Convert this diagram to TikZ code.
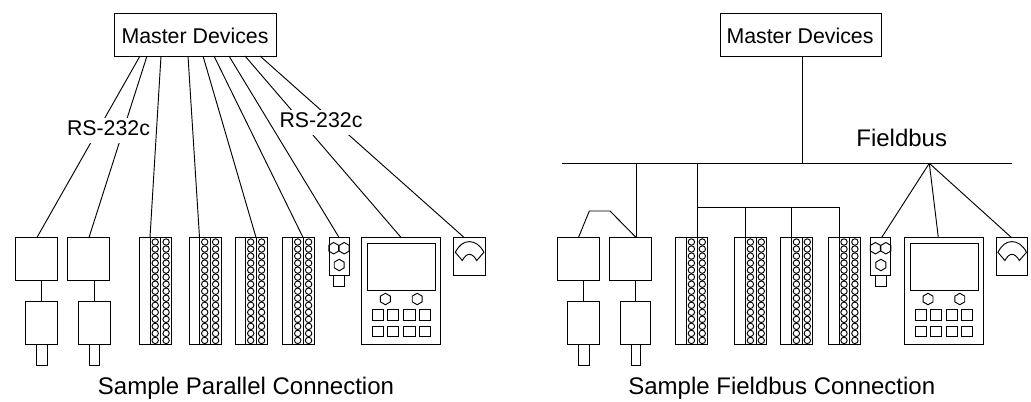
\documentclass[tikz,border=0pt]{standalone}
\usepackage{fontspec}
\setmainfont{Liberation Sans}
\usepackage{tikz}
\usetikzlibrary{shapes.geometric}

\newcommand{\iomodule}[2]{
\node[modbox] (#1) at (#2,237.4) {};
\draw ([xshift=8pt]#1.north west) -- ([xshift=8pt]#1.south west);
\draw ([xshift=16pt]#1.north west) -- ([xshift=16pt]#1.south west);
\foreach \n in {0,...,14} {
\node[led] (#1a\n) at (#2+15.7,242+7.03*\n) {};
\node[led] (#1b\n) at (#2+26.6,242+7.03*\n) {};
}
}
\newcommand{\sensor}[2]{
\node[sensbox] (#1) at (#2,237.4) {};
\node[plug,minimum width=8.2pt,minimum height=8.3pt,anchor=north] (#1p) at (#1.south) {};
\node[hex] (#1x) at (#2+4.7,248.2) {};
\node[hex] (#1y) at (#2+15.2,248.2) {};
\node[hex] (#1z) at (#2+10.2,265) {};
}
\newcommand{\panel}[2]{
\node[panelbox] (#1) at (#2,237.4) {};
\node[screen] (#1s) at (#2+5.8,243.4) {};
\node[hex] (#1x) at (#2+23.7,299) {};
\node[hex] (#1y) at (#2+55.5,299) {};
\foreach \bx/\bn in {10.8/1,25.8/2,42/3,57.3/4} {
\foreach \by/\br in {309.4/1,326/2} {
\node[button] (#1b\bn\br) at (#2+\bx,\by) {};
}
}
}
\newcommand{\gauge}[2]{
\node[sensbox,minimum width=23.5pt] (#1) at (#2,237.4) {};
\draw[shift={(#2,0)}] (1.6,252.3) .. controls (5.5,245) and (10,241.6) .. (15.6,241.6)
 .. controls (21,241.6) and (26.5,245) .. (30.2,252.3) -- (23,260.5)
 .. controls (21,257) and (18.5,254.3) .. (15.6,254.3)
 .. controls (13,254.3) and (10.5,257) .. (8.6,260.5) -- cycle;
}

\begin{document}
\begin{tikzpicture}[x=0.75pt,y=-0.75pt,line width=0.7pt]
\tikzstyle{txt}=[font=\fontsize{16}{18}\selectfont,inner sep=0]
\tikzstyle{bigtxt}=[font=\fontsize{18}{20}\selectfont,inner sep=0,anchor=base]
\tikzstyle{master}=[draw,minimum width=121.5pt,minimum height=31.9pt,inner sep=0,outer sep=0]
\tikzstyle{gap}=[txt,fill=white,text height=12.5pt,text depth=6pt,anchor=base]
\tikzstyle{square}=[draw,minimum width=31.6pt,minimum height=32pt,inner sep=0,outer sep=0]
\tikzstyle{lower}=[draw,minimum width=24pt,minimum height=32pt,inner sep=0,outer sep=0]
\tikzstyle{plug}=[draw,minimum width=8pt,minimum height=16pt,inner sep=0,outer sep=0]
\tikzstyle{modbox}=[draw,minimum width=24pt,minimum height=80.3pt,inner sep=0,outer sep=0,anchor=north west]
\tikzstyle{led}=[draw,circle,minimum size=4.8pt,inner sep=0,outer sep=0]
\tikzstyle{sensbox}=[draw,minimum width=15pt,minimum height=28.5pt,inner sep=0,outer sep=0,anchor=north west]
\tikzstyle{hex}=[draw,regular polygon,regular polygon sides=6,shape border rotate=30,minimum size=8.6pt,inner sep=0,outer sep=0]
\tikzstyle{panelbox}=[draw,minimum width=59pt,minimum height=80.3pt,inner sep=0,outer sep=0,anchor=north west]
\tikzstyle{screen}=[draw,minimum width=51pt,minimum height=35.5pt,inner sep=0,outer sep=0,anchor=north west]
\tikzstyle{button}=[draw,minimum width=8.5pt,minimum height=8pt,inner sep=0,outer sep=0,anchor=north west]
\useasboundingbox (0,0) rectangle (1031,401);
% parallel side
\node[master] (ma) at (195.7,34.7) {};
\node[txt,anchor=base] (mat) at (195,43.3) {Master Devices};
\node[square] (s1) at (36.5,258.7) {};
\node[square] (s2) at (88.8,258.7) {};
\node[lower] (l1) at (41.5,323.1) {};
\node[lower] (l2) at (94.2,323.1) {};
\node[plug] (p1) at (41.7,355.2) {};
\node[plug] (p2) at (94.6,355.2) {};
\iomodule{ma1}{139.5}
\iomodule{ma2}{189}
\iomodule{ma3}{235}
\iomodule{ma4}{282}
\sensor{sa}{329}
\panel{pa}{361.7}
\gauge{ga}{453.7}
\coordinate (a1) at (140,56);
\coordinate (a2) at (147,56);
\coordinate (a3) at (161,56);
\coordinate (a4) at (188,56);
\coordinate (a5) at (203,56);
\coordinate (a6) at (214,56);
\coordinate (a7) at (229,56);
\coordinate (a8) at (245,56);
\coordinate (a9) at (260,56);
\coordinate (b1) at (37,237.4);
\coordinate (b2) at (89,237.4);
\coordinate (b3) at (150,237.4);
\coordinate (b4) at (199.5,237.4);
\coordinate (b5) at (256,237.4);
\coordinate (b6) at (303,237.4);
\coordinate (b7) at (339,237.4);
\coordinate (b8) at (401,237.4);
\coordinate (b9) at (464,237.4);
\draw (a1) -- (b1);
\draw (a2) -- (b2);
\draw (a3) -- (b3);
\draw (a4) -- (b4);
\draw (a5) -- (b5);
\draw (a6) -- (b6);
\draw (a7) -- (b7);
\draw (a8) -- (b8);
\draw (a9) -- (b9);
\draw (l1.north |- s1.south) -- (l1.north);
\draw (l2.north |- s2.south) -- (l2.north);
\node[gap] (rs1) at (108.5,135) {RS-232c};
\node[gap] (rs2) at (321,127) {RS-232c};
\node[bigtxt] (capa) at (246,394) {Sample Parallel Connection};
% fieldbus side
\node[master,minimum width=120.7pt] (mb) at (800.5,34.7) {};
\node[txt,anchor=base] (mbt) at (800,43.3) {Master Devices};
\node[bigtxt] (fb) at (901.7,146.7) {Fieldbus};
\coordinate (busl) at (561.7,163.3);
\coordinate (busr) at (1012.3,163.3);
\node[square] (s3) at (578.5,258.7) {};
\node[square] (s4) at (630.8,258.7) {};
\node[lower] (l3) at (583.8,323.1) {};
\node[lower,minimum width=22.2pt] (l4) at (635.6,323.1) {};
\node[plug] (p3) at (583.8,355.2) {};
\node[plug,minimum width=7.3pt] (p4) at (635.9,355.2) {};
\iomodule{mb1}{675.7}
\iomodule{mb2}{734.7}
\iomodule{mb3}{780.7}
\iomodule{mb4}{828.3}
\sensor{sb}{870.7}
\panel{pb}{904.3}
\gauge{gb}{996.3}
\coordinate (c0) at (802.7,163.3);
\coordinate (c1) at (636,163.3);
\coordinate (c2) at (636,237.4);
\coordinate (c3) at (697,163.3);
\coordinate (c4) at (697,237.4);
\coordinate (c5) at (697,207);
\coordinate (c6) at (745.7,207);
\coordinate (c7) at (745.7,237.4);
\coordinate (c8) at (791.7,207);
\coordinate (c9) at (791.7,237.4);
\coordinate (c10) at (839,207);
\coordinate (c11) at (839,237.4);
\coordinate (k1) at (578.5,237.4);
\coordinate (k2) at (589.3,211);
\coordinate (k3) at (610,211);
\coordinate (fan) at (929.3,163.3);
\coordinate (f1) at (881.7,237.4);
\coordinate (f2) at (938.3,237.4);
\coordinate (f3) at (1011.3,237.4);
\draw (busl) -- (busr);
\draw (mb.south -| c0) -- (c0);
\draw (c1) -- (c2);
\draw (c3) -- (c4);
\draw (c5) -- (c10) -- (c11);
\draw (c6) -- (c7);
\draw (c8) -- (c9);
\draw (k1) -- (k2) -- (k3) -- (c2);
\draw (fan) -- (f1);
\draw (fan) -- (f2);
\draw (fan) -- (f3);
\draw (l3.north |- s3.south) -- (l3.north);
\draw (l4.north |- s4.south) -- (l4.north);
\node[bigtxt] (capb) at (781.8,394) {Sample Fieldbus Connection};
\end{tikzpicture}
\end{document}
